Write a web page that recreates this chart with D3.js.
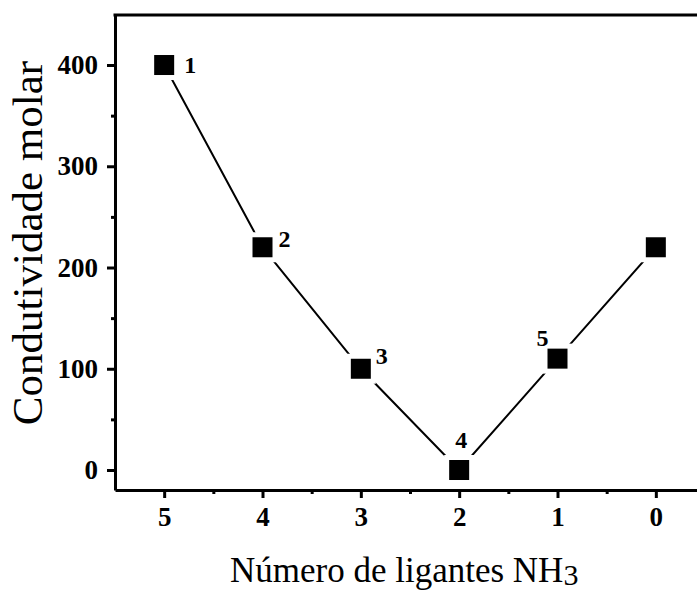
<!DOCTYPE html>
<html>
<head>
<meta charset="utf-8">
<title>condutividade</title>
<script src="https://cdn.jsdelivr.net/npm/d3@7"></script>
<style>
  body { margin: 0; background: #fff; }
  svg { display: block; }
</style>
</head>
<body>
<svg width="697" height="593" id="mainsvg"></svg>
<script>
// data
const ligantes = [5, 4, 3, 2, 1, 0];
const condutividade = [400, 220, 100, 0, 110, 220];
const rotulos = ['1', '2', '3', '4', '5', ''];
const yTicks = [0, 100, 200, 300, 400];
const yMinor = [50, 150, 250, 350];
const xMinor = [4.5, 3.5, 2.5, 1.5, 0.5];

const serif = '"Times New Roman", "Liberation Serif", Times, serif';
const svg = d3.select('svg');
const plotLeft = 115, plotTop = 15, plotBottom = 490;

const x = d3.scaleLinear().domain([5.5, -0.5]).range([plotLeft, 705]);
const y = d3.scaleLinear().domain([-19.75, 449.4]).range([plotBottom, plotTop]);

const data = ligantes.map((l, i) => ({ l, v: condutividade[i], lab: rotulos[i] }));

// minor ticks
svg.append('g').attr('transform', `translate(${plotLeft},0)`)
  .call(d3.axisLeft(y).tickValues(yMinor).tickSize(4).tickFormat('').tickSizeOuter(0))
  .call(g => g.select('.domain').remove())
  .selectAll('line').attr('stroke-width', 3);
svg.append('g').attr('transform', `translate(0,${plotBottom})`)
  .call(d3.axisBottom(x).tickValues(xMinor).tickSize(4).tickFormat('').tickSizeOuter(0))
  .call(g => g.select('.domain').remove())
  .selectAll('line').attr('stroke-width', 3);

// major axes
const yAxis = svg.append('g').attr('transform', `translate(${plotLeft},0)`)
  .call(d3.axisLeft(y).tickValues(yTicks).tickSize(8).tickPadding(9).tickSizeOuter(0));
const xAxis = svg.append('g').attr('transform', `translate(0,${plotBottom})`)
  .call(d3.axisBottom(x).tickValues(ligantes).tickFormat(d3.format('d'))
    .tickSize(8).tickPadding(4).tickSizeOuter(0));

[yAxis, xAxis].forEach(g => {
  g.select('.domain').attr('stroke-width', 3);
  g.selectAll('.tick line').attr('stroke-width', 3);
  g.selectAll('text')
    .style('font-family', serif)
    .style('font-weight', 'bold')
    .style('font-size', '27px')
    .attr('fill', '#000');
});
xAxis.selectAll('text').attr('dy', '0.9em');

// top frame line
svg.append('line')
  .attr('x1', plotLeft - 1.5).attr('x2', 697).attr('y1', plotTop).attr('y2', plotTop)
  .attr('stroke', '#000').attr('stroke-width', 3);

// line
const line = d3.line().x(d => x(d.l)).y(d => y(d.v));
svg.append('path').datum(data)
  .attr('d', line)
  .attr('fill', 'none').attr('stroke', '#000').attr('stroke-width', 2);

// markers with a white gap around them
svg.selectAll('.halo').data(data).join('rect')
  .attr('class', 'halo')
  .attr('x', d => x(d.l) - 15).attr('y', d => y(d.v) - 15)
  .attr('width', 30).attr('height', 30)
  .attr('fill', '#fff');
svg.selectAll('.pt').data(data).join('rect')
  .attr('class', 'pt')
  .attr('x', d => x(d.l) - 10).attr('y', d => y(d.v) - 10)
  .attr('width', 20).attr('height', 20)
  .attr('fill', '#000');

// point labels
const offs = [[26, 8], [22, 0], [21, -5], [2, -22], [-15, -13], [0, 0]];
svg.selectAll('.lab').data(data).join('text')
  .attr('class', 'lab')
  .attr('x', (d, i) => x(d.l) + offs[i][0])
  .attr('y', (d, i) => y(d.v) + offs[i][1])
  .attr('text-anchor', 'middle')
  .style('font-family', serif)
  .style('font-weight', 'bold')
  .style('font-size', '24px')
  .text(d => d.lab);

// axis titles
svg.append('text')
  .attr('transform', 'translate(42,243) rotate(-90)')
  .attr('text-anchor', 'middle')
  .style('font-family', serif)
  .style('font-size', '43px')
  .text('Condutividade molar');

const xt = svg.append('text')
  .attr('x', 230).attr('y', 582)
  .style('font-family', serif)
  .style('font-size', '35px');
xt.append('tspan').text('Número de ligantes NH');
xt.append('tspan').attr('dy', 3).style('font-size', '30px').text('3');
</script>
</body>
</html>
